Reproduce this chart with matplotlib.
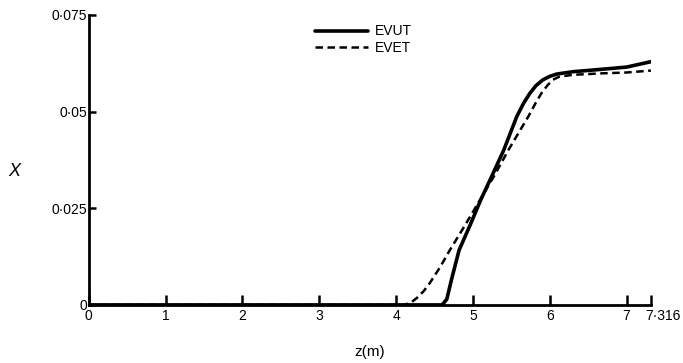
import numpy as np
import matplotlib.pyplot as plt
import matplotlib.transforms as mtransforms

# data
z_evut = [0, 4.60, 4.66, 4.72, 4.82, 4.96, 5.10, 5.25, 5.40, 5.57, 5.66, 5.74, 5.82, 5.91, 6.0, 6.09, 6.3, 6.6, 7.0, 7.316]
x_evut = [0, 0, 0.0015, 0.0065, 0.0142, 0.0205, 0.0271, 0.0335, 0.040, 0.0487, 0.0522, 0.0547, 0.0567, 0.0582, 0.0591, 0.0597, 0.0603, 0.0608, 0.0615, 0.0629]

z_evet = [0, 4.11, 4.20, 4.27, 4.36, 4.44, 4.57, 4.70, 4.90, 5.09, 5.28, 5.46, 5.60, 5.72, 5.81, 5.89, 5.97, 6.04, 6.12, 6.3, 6.7, 7.0, 7.316]
x_evet = [0, 0, 0.0007, 0.0018, 0.0036, 0.0057, 0.0097, 0.0142, 0.0207, 0.0271, 0.0335, 0.040, 0.0447, 0.0487, 0.0520, 0.0547, 0.0568, 0.0582, 0.0590, 0.0595, 0.0599, 0.0601, 0.0606]

xticks = [0, 1, 2, 3, 4, 5, 6, 7, 7.316]
xticklabels = ['0', '1', '2', '3', '4', '5', '6', '7', '7·316']
yticks = [0, 0.025, 0.05, 0.075]
yticklabels = ['0', '0·025', '0·05', '0·075']

plt.rcParams['font.family'] = ['Liberation Sans', 'DejaVu Sans']

fig = plt.figure(figsize=(6.83, 3.63), dpi=100)
ax = fig.add_axes([0.130, 0.160, 0.823, 0.799])

ax.plot(z_evut, x_evut, color='black', lw=2.6, solid_capstyle='round', label='EVUT')
ax.plot(z_evet, x_evet, color='black', lw=1.8, ls=(0, (3, 1.8)), label='EVET')

ax.set_xlim(0, 7.316)
ax.set_ylim(0, 0.075)
ax.set_xticks(xticks)
ax.set_xticklabels(xticklabels)
ax.set_yticks(yticks)
ax.set_yticklabels(yticklabels)

for s in ['top', 'right']:
    ax.spines[s].set_visible(False)
for s in ['left', 'bottom']:
    ax.spines[s].set_linewidth(2)

ax.tick_params(axis='x', direction='in', length=7, width=1.8, labelsize=10, pad=3)
ax.tick_params(axis='y', direction='in', length=5, width=1.8, labelsize=10, pad=1)

# last label sits just right of its tick, as in the original
last = ax.get_xticklabels()[-1]
last.set_horizontalalignment('left')
last.set_transform(last.get_transform() + mtransforms.ScaledTranslation(-6 / 100, 0, fig.dpi_scale_trans))

ax.set_xlabel('z(m)', fontsize=11, labelpad=16)
ax.set_ylabel('X', fontsize=13, rotation=0, style='italic', va='center', ha='center')
ax.yaxis.set_label_coords(-0.133, 0.46)

ax.legend(loc='upper left', bbox_to_anchor=(0.38, 1.01), frameon=False,
          fontsize=10, handlelength=3.8, handletextpad=0.5, labelspacing=0.15)

fig.savefig('out.png', dpi=100)
